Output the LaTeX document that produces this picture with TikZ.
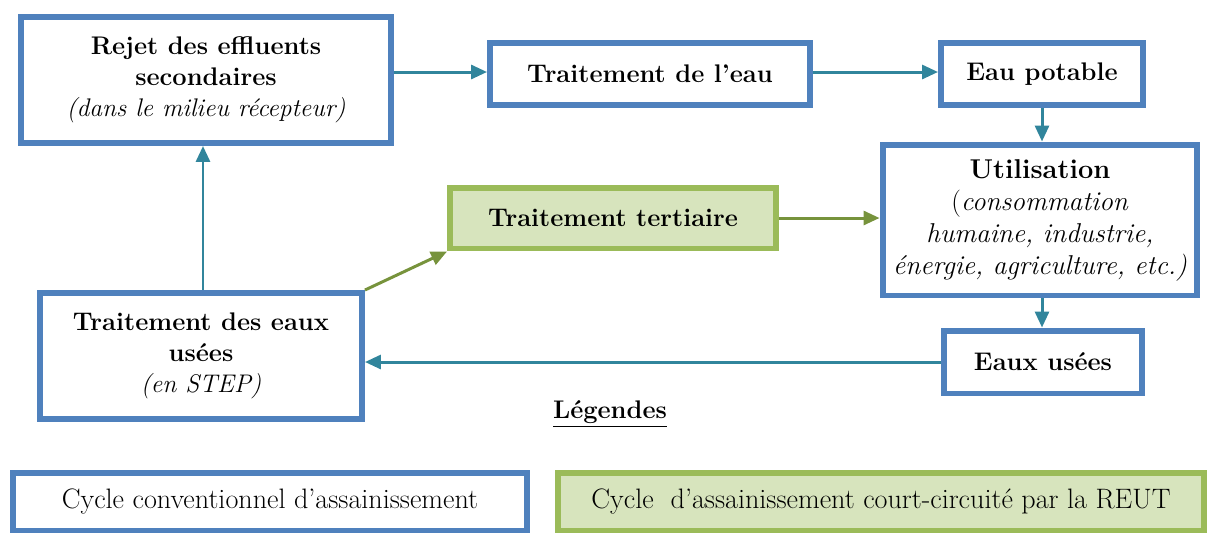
\documentclass[tikz,border=0pt]{standalone}
\usepackage{fontspec}
\usetikzlibrary{arrows.meta}
\definecolor{boxblue}{HTML}{4F81BD}
\definecolor{boxgreen}{HTML}{9BBB59}
\definecolor{fillgreen}{HTML}{D7E4BD}
\definecolor{arrowteal}{HTML}{31859C}
\definecolor{arrowgreen}{HTML}{77933C}
\begin{document}
\begin{tikzpicture}[x=0.02cm,y=-0.02cm,
    bluebox/.style={draw=boxblue,line width=3.4pt,fill=white,align=center,inner sep=0pt},
    greenbox/.style={draw=boxgreen,line width=3.4pt,fill=fillgreen,align=center,inner sep=0pt},
    big/.style={font=\fontsize{14.5}{17.6}\selectfont},
    conv/.style={draw=arrowteal,line width=1.7pt,-{Triangle[length=0.32cm,width=0.28cm]}},
    reut/.style={draw=arrowgreen,line width=1.7pt,-{Triangle[length=0.32cm,width=0.28cm]}}]
    \useasboundingbox (0,0) rectangle (1208,532);
    % boxes of the cycle
    \node[bluebox,big,minimum width=7.4cm,minimum height=2.52cm] (rejet) at (206,80)
        {\textbf{Rejet des effluents}\\ \textbf{secondaires}\\ \textit{(dans le milieu récepteur)}};
    \node[bluebox,big,minimum width=6.4cm,minimum height=1.24cm] (trteau) at (650,74)
        {\textbf{Traitement de l’eau}};
    \node[bluebox,big,minimum width=4.04cm,minimum height=1.24cm] (potable) at (1042,74)
        {\textbf{Eau potable}};
    \node[bluebox,font=\fontsize{15.5}{18.2}\selectfont,minimum width=6.3cm,minimum height=3.02cm] (util) at (1040,220)
        {\textbf{Utilisation}\\ (\textit{consommation}\\ \textit{humaine, industrie,}\\ \textit{énergie, agriculture, etc.)}};
    \node[greenbox,big,minimum width=6.52cm,minimum height=1.22cm] (tert) at (613,218)
        {\textbf{Traitement tertiaire}};
    \node[bluebox,big,minimum width=6.44cm,minimum height=2.52cm] (step) at (201,356)
        {\textbf{Traitement des eaux}\\ \textbf{usées}\\ \textit{(en STEP)}};
    \node[bluebox,big,minimum width=3.96cm,minimum height=1.26cm] (usees) at (1043,362)
        {\textbf{Eaux usées}};
    % conventional cycle
    \draw[conv] (rejet.east |- 0,72) -- (trteau.west |- 0,72);
    \draw[conv] (trteau.east |- 0,72) -- (potable.west |- 0,72);
    \draw[conv] (potable.south) -- (util.north -| potable.south);
    \draw[conv] (util.south -| potable.south) -- (usees.north -| potable.south);
    \draw[conv] (usees.west) -- (step.east |- usees.west);
    \draw[conv] (step.north -| 203,0) -- (rejet.south -| 203,0);
    % short circuit
    \draw[reut] (step.north east) -- (tert.south west);
    \draw[reut] (tert.east) -- (util.west |- tert.east);
    % legend
    \node[big] (leg) at (610,414) {\underline{\textbf{Légendes}}};
    \node[bluebox,font=\fontsize{16}{19}\selectfont,minimum width=10.28cm,minimum height=1.16cm] (legconv) at (270,502)
        {Cycle conventionnel d’assainissement};
    \node[greenbox,font=\fontsize{16}{19}\selectfont,minimum width=12.94cm,minimum height=1.16cm] (legreut) at (881,502)
        {Cycle\ \ d’assainissement court-circuité par la REUT};
\end{tikzpicture}
\end{document}
